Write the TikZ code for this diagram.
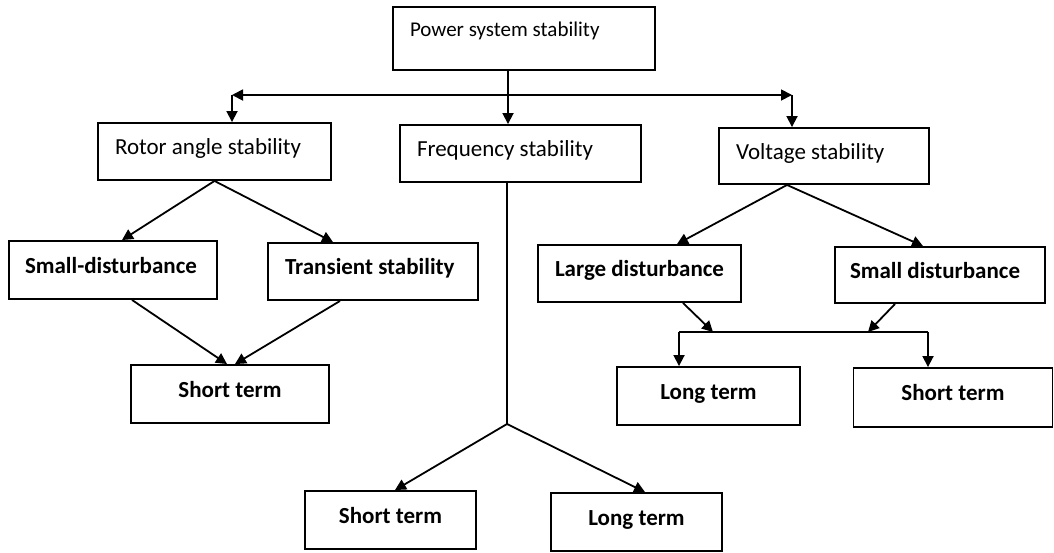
\documentclass[tikz,border=0pt]{standalone}
\usepackage{fontspec}
\setmainfont{Carlito}
\usetikzlibrary{arrows.meta}
\tikzset{
  box/.style={draw, line width=1.9pt, rectangle, inner xsep=17pt, inner ysep=0pt,
    text height=16pt, text depth=10pt, font=\fontsize{23}{27}\selectfont},
  lbox/.style={box, text width=#1, align=left, execute at begin node={\spaceskip=0pt\xspaceskip=0pt\relax}},
  cbox/.style={box, minimum width=#1},
  bf/.style={font=\bfseries\fontsize{23}{27}\selectfont},
  arr/.style={line width=1.8pt, -{Triangle[length=11pt,width=11pt]}},
  link/.style={line width=1.8pt},
}
\begin{document}
\begin{tikzpicture}[x=1pt, y=-1pt]
\useasboundingbox (0,0) rectangle (1054,552);
\node[lbox=228pt, minimum height=63pt, text depth=20pt, font=\fontsize{21}{25}\selectfont] (pss) at (524,38.5) {Power system stability};
\node[lbox=199pt, minimum height=57pt] (rotor) at (214.5,151.5) {Rotor angle stability};
\node[lbox=207pt, minimum height=57pt] (freq) at (520.5,153.5) {Frequency stability};
\node[lbox=176pt, minimum height=56pt] (volt) at (824,156) {Voltage stability};
\node[lbox=176pt, inner xsep=16pt, minimum height=58pt, bf] (sdist) at (113,270) {Small-disturbance};
\node[lbox=176pt, minimum height=57pt, bf] (trans) at (373,271.5) {Transient stability};
\node[cbox=198pt, minimum height=58pt, bf] (stA) at (230,394) {Short term};
\node[lbox=169pt, minimum height=57pt, bf] (large) at (639.5,273.5) {Large disturbance};
\node[lbox=180pt, inner xsep=15pt, minimum height=56pt, bf] (sdistB) at (940,275) {Small disturbance};
\node[cbox=183pt, minimum height=58pt, bf] (ltB) at (708.5,396) {Long term};
\node[cbox=199pt, minimum height=59pt, bf] (stB) at (953,397.5) {Short term};
\node[cbox=171pt, minimum height=58pt, bf] (stC) at (390.5,520) {Short term};
\node[cbox=171pt, minimum height=58pt, bf] (ltC) at (636.5,522) {Long term};

\coordinate (busL) at (232,95);
\coordinate (busR) at (792,95);
\coordinate (jL) at (679,332);
\coordinate (jR) at (928,332);
\coordinate (fj) at (507,424);

\draw[arr] ([xshift=-16pt]pss.south) -- ([xshift=-16pt]pss.south |- freq.north);
\draw[link, {Triangle[length=11pt,width=11pt]}-{Triangle[length=11pt,width=11pt]}] (busL) -- (busR);
\draw[arr] (busL) -- (busL |- rotor.north);
\draw[arr] (busR) -- (busR |- volt.north);

\draw[arr] (rotor.south) -- ([xshift=9pt]sdist.north);
\draw[arr] (rotor.south) -- ([xshift=-40pt]trans.north);
\draw[arr] ([xshift=19pt]sdist.south) -- ([xshift=-3pt]stA.north);
\draw[arr] ([xshift=-33pt]trans.south) -- ([xshift=5pt]stA.north);

\draw[arr] ([xshift=-37pt]volt.south) -- ([xshift=37.5pt]large.north);
\draw[arr] ([xshift=-37pt]volt.south) -- ([xshift=-17pt]sdistB.north);
\draw[arr] ([xshift=43.5pt]large.south) -- ([xshift=34pt]jL);
\draw[arr] ([xshift=-45pt]sdistB.south) -- ([xshift=-60pt]jR);
\draw[link] (jL) -- (jR);
\draw[arr] (jL) -- (jL |- ltB.north);
\draw[arr] (jR) -- (jR |- stB.north);

\draw[link] ([xshift=-13.5pt]freq.south) -- (fj);
\draw[arr] (fj) -- ([xshift=4.5pt]stC.north);
\draw[arr] (fj) -- ([xshift=8.5pt]ltC.north);
\end{tikzpicture}
\end{document}
